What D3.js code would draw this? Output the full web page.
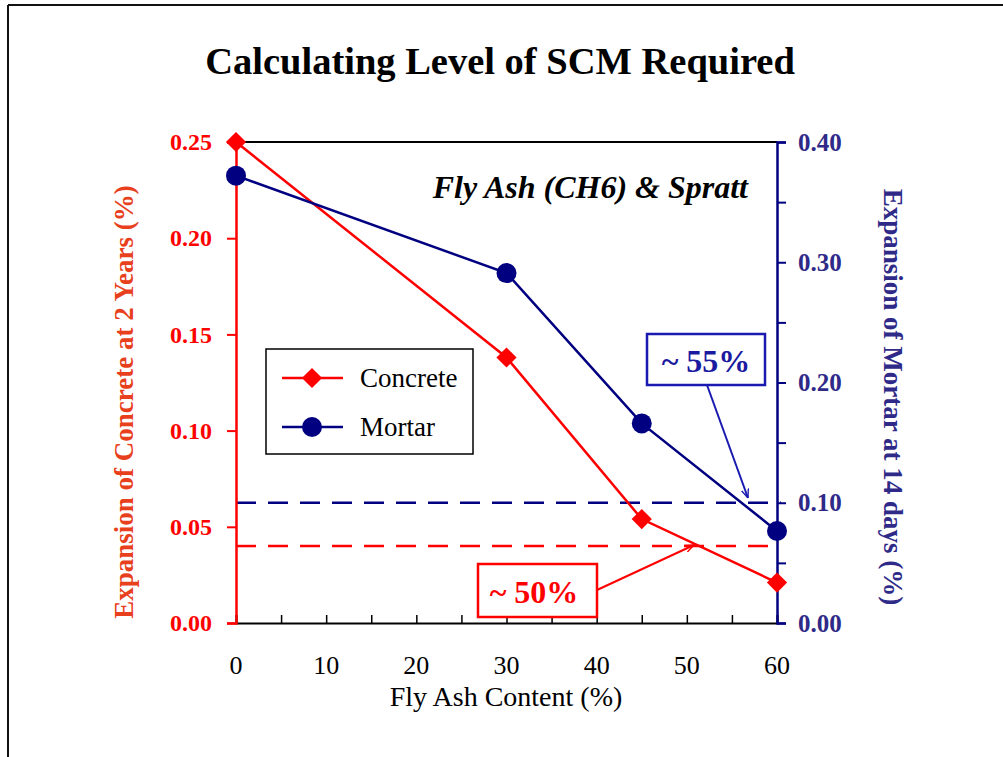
<!DOCTYPE html>
<html>
<head>
<meta charset="utf-8">
<script src="https://cdn.jsdelivr.net/npm/d3@7"></script>
<style>
  body { margin: 0; background: #fff; }
  svg { display: block; }
</style>
</head>
<body>
<svg id="chart" width="1003" height="757"></svg>
<script>
// data
const flyAsh = [0, 30, 45, 60]
const concrete = [0.25, 0.138, 0.054, 0.021]   // left axis, % at 2 years
const mortar = [0.372, 0.291, 0.166, 0.0765]   // right axis, % at 14 days
const xTicks = [0, 10, 20, 30, 40, 50, 60]
const leftTicks = [0, 0.05, 0.10, 0.15, 0.20, 0.25]
const rightTicks = [0, 0.10, 0.20, 0.30, 0.40]
const concreteLimit = 0.04
const mortarLimit = 0.10

const red = "#ff0000"
const navy = "#000080"
const navyText = "#2f2a88"
const redText = "#e8401c"
const serif = "'Liberation Serif', 'Times New Roman', serif"

const svg = d3.select("#chart")

// frame
svg.append("line").attr("x1", 8).attr("y1", 5).attr("x2", 1003).attr("y2", 5)
  .attr("stroke", "#111").attr("stroke-width", 2)
svg.append("line").attr("x1", 8).attr("y1", 5).attr("x2", 8).attr("y2", 757)
  .attr("stroke", "#111").attr("stroke-width", 2)

const plotL = 236, plotR = 777, plotT = 142, plotB = 623

const x = d3.scaleLinear().domain([0, 60]).range([plotL, plotR])
const yL = d3.scaleLinear().domain([0, 0.25]).range([plotB, plotT])
const yR = d3.scaleLinear().domain([0, 0.40]).range([plotB, plotT])

// title
svg.append("text").attr("x", 500).attr("y", 74).attr("text-anchor", "middle")
  .attr("font-family", serif).attr("font-weight", "bold").attr("font-size", 38.5)
  .text("Calculating Level of SCM Required")

// top border of plot
svg.append("line").attr("x1", plotL).attr("x2", plotR).attr("y1", plotT).attr("y2", plotT)
  .attr("stroke", "#000").attr("stroke-width", 2)

// dashed limit lines
svg.append("line").attr("x1", plotL).attr("x2", plotR + 4)
  .attr("y1", yR(mortarLimit)).attr("y2", yR(mortarLimit))
  .attr("stroke", navy).attr("stroke-width", 2.5).attr("stroke-dasharray", "20,12")
svg.append("line").attr("x1", plotL).attr("x2", plotR - 2)
  .attr("y1", yL(concreteLimit)).attr("y2", yL(concreteLimit))
  .attr("stroke", red).attr("stroke-width", 2.5).attr("stroke-dasharray", "20,12")

// x axis
const xAxis = svg.append("g").attr("transform", `translate(0,${plotB})`)
  .call(d3.axisBottom(x).tickValues(d3.range(0, 61, 5)).tickSize(-8).tickFormat(""))
xAxis.select(".domain").attr("stroke", "#000").attr("stroke-width", 2)
xAxis.selectAll(".tick line").attr("stroke", "#000").attr("stroke-width", 1.5)
svg.append("g").selectAll("text").data(xTicks).join("text")
  .attr("x", d => x(d)).attr("y", plotB + 51).attr("text-anchor", "middle")
  .attr("font-family", serif).attr("font-size", 26).text(d => d)

svg.append("text").attr("x", 506).attr("y", 706).attr("text-anchor", "middle")
  .attr("font-family", serif).attr("font-size", 28).text("Fly Ash Content (%)")

// left axis
const lAxis = svg.append("g").attr("transform", `translate(${plotL},0)`)
  .call(d3.axisLeft(yL).tickValues(leftTicks).tickSize(9).tickPadding(15).tickFormat(d3.format(".2f")))
lAxis.select(".domain").attr("stroke", red).attr("stroke-width", 2.5)
lAxis.selectAll(".tick line").attr("stroke", red).attr("stroke-width", 2)
lAxis.selectAll(".tick text").attr("fill", red).attr("font-family", serif)
  .attr("font-weight", "bold").attr("font-size", 24)

svg.append("text").attr("transform", `translate(133,402) rotate(-90)`)
  .attr("text-anchor", "middle").attr("font-family", serif).attr("font-weight", "bold")
  .attr("font-size", 27).attr("fill", redText)
  .text("Expansion of Concrete at 2 Years (%)")

// right axis
const rAxis = svg.append("g").attr("transform", `translate(${plotR},0)`)
  .call(d3.axisRight(yR).tickValues(d3.range(0, 0.401, 0.05)).tickSize(9).tickPadding(12)
    .tickFormat(d => rightTicks.some(t => Math.abs(t - d) < 1e-6) ? d3.format(".2f")(d) : ""))
rAxis.select(".domain").attr("stroke", navy).attr("stroke-width", 2.5)
rAxis.selectAll(".tick line").attr("stroke", navy).attr("stroke-width", 2)
rAxis.selectAll(".tick text").attr("fill", navyText).attr("font-family", serif)
  .attr("font-weight", "bold").attr("font-size", 25)

svg.append("text").attr("transform", `translate(884,397) rotate(90)`)
  .attr("text-anchor", "middle").attr("font-family", serif).attr("font-weight", "bold")
  .attr("font-size", 27).attr("fill", navyText)
  .text("Expansion of Mortar at 14 days (%)")

// series
const concreteData = flyAsh.map((f, i) => [f, concrete[i]])
const mortarData = flyAsh.map((f, i) => [f, mortar[i]])

svg.append("path").datum(concreteData)
  .attr("d", d3.line().x(d => x(d[0])).y(d => yL(d[1])))
  .attr("fill", "none").attr("stroke", red).attr("stroke-width", 2.5)
svg.append("path").datum(mortarData)
  .attr("d", d3.line().x(d => x(d[0])).y(d => yR(d[1])))
  .attr("fill", "none").attr("stroke", navy).attr("stroke-width", 2.5)

const diamond = d3.symbol().type(d3.symbolDiamond2).size(260)
svg.append("g").selectAll("path").data(concreteData).join("path")
  .attr("transform", d => `translate(${x(d[0])},${yL(d[1])})`)
  .attr("d", diamond).attr("fill", red)
svg.append("g").selectAll("circle").data(mortarData).join("circle")
  .attr("cx", d => x(d[0])).attr("cy", d => yR(d[1])).attr("r", 10)
  .attr("fill", navy)

// inset label
svg.append("text").attr("x", 748).attr("y", 198).attr("text-anchor", "end")
  .attr("font-family", serif).attr("font-weight", "bold").attr("font-style", "italic")
  .attr("font-size", 32).text("Fly Ash (CH6) & Spratt")

// legend
const legend = svg.append("g").attr("transform", "translate(266,349)")
legend.append("rect").attr("width", 207).attr("height", 105)
  .attr("fill", "#fff").attr("stroke", "#000").attr("stroke-width", 1.5)
legend.append("line").attr("x1", 16).attr("x2", 77).attr("y1", 29).attr("y2", 29)
  .attr("stroke", red).attr("stroke-width", 2.5)
legend.append("path").attr("transform", "translate(46,29)").attr("d", diamond).attr("fill", red)
legend.append("text").attr("x", 94).attr("y", 38).attr("font-family", serif)
  .attr("font-size", 27).text("Concrete")
legend.append("line").attr("x1", 16).attr("x2", 77).attr("y1", 78).attr("y2", 78)
  .attr("stroke", navy).attr("stroke-width", 2.5)
legend.append("circle").attr("cx", 46).attr("cy", 78).attr("r", 10).attr("fill", navy)
legend.append("text").attr("x", 94).attr("y", 87).attr("font-family", serif)
  .attr("font-size", 27).text("Mortar")

// arrow heads
const defs = svg.append("defs")
;[["arrRed", red], ["arrBlue", "#1a1ab0"]].forEach(([id, c]) => {
  defs.append("marker").attr("id", id).attr("viewBox", "0 0 10 10")
    .attr("refX", 10).attr("refY", 5).attr("markerWidth", 9).attr("markerHeight", 9)
    .attr("orient", "auto").attr("markerUnits", "userSpaceOnUse")
    .append("path").attr("d", "M0,1 L10,5 L0,9").attr("fill", "none")
    .attr("stroke", c).attr("stroke-width", 1.5)
})

// ~55% callout
svg.append("line").attr("x1", 707).attr("y1", 385).attr("x2", 748).attr("y2", 498)
  .attr("stroke", "#1a1ab0").attr("stroke-width", 2).attr("marker-end", "url(#arrBlue)")
svg.append("rect").attr("x", 647).attr("y", 334).attr("width", 118).attr("height", 51)
  .attr("fill", "#fff").attr("stroke", "#1a1ab0").attr("stroke-width", 2.5)
svg.append("text").attr("x", 706).attr("y", 372).attr("text-anchor", "middle")
  .attr("font-family", serif).attr("font-weight", "bold").attr("font-size", 32)
  .attr("fill", "#1a1aa0").text("~ 55%")

// ~50% callout
svg.append("line").attr("x1", 597).attr("y1", 590).attr("x2", 694).attr("y2", 545)
  .attr("stroke", red).attr("stroke-width", 2).attr("marker-end", "url(#arrRed)")
svg.append("rect").attr("x", 478).attr("y", 564).attr("width", 119).attr("height", 53)
  .attr("fill", "#fff").attr("stroke", red).attr("stroke-width", 2.5)
svg.append("text").attr("x", 534).attr("y", 603).attr("text-anchor", "middle")
  .attr("font-family", serif).attr("font-weight", "bold").attr("font-size", 32)
  .attr("fill", red).text("~ 50%")
</script>
</body>
</html>
